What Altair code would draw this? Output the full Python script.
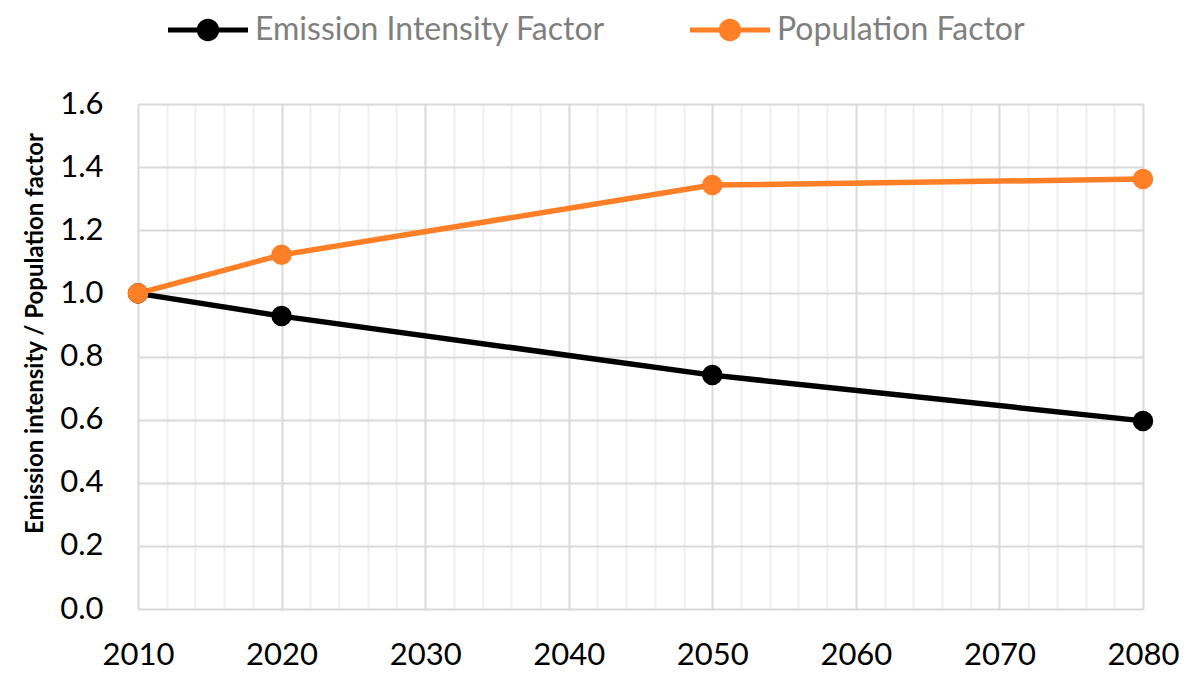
import altair as alt
import pandas as pd

years = [2010, 2020, 2050, 2080]
emission_intensity = [1.0, 0.928, 0.741, 0.596]
population = [1.0, 1.122, 1.343, 1.362]
series_names = ["Emission Intensity Factor", "Population Factor"]
series_colors = ["#000000", "#ff7f27"]
x_ticks = list(range(2010, 2081, 2))
y_ticks = [0.0, 0.2, 0.4, 0.6, 0.8, 1.0, 1.2, 1.4, 1.6]

rows = []
for name, vals in zip(series_names, [emission_intensity, population]):
    for yr, v in zip(years, vals):
        rows.append({"year": yr, "value": v, "series": name})
df = pd.DataFrame(rows)

FONT = "Lato"

x_enc = alt.X(
    "year:Q",
    scale=alt.Scale(domain=[2010, 2080], nice=False, zero=False),
    axis=alt.Axis(
        values=x_ticks,
        format="d",
        labelExpr="datum.value % 10 === 0 ? datum.label : ''",
        gridColor=alt.condition("datum.value % 10 === 0", alt.value("#d9d9d9"), alt.value("#efefef")),
        gridWidth=2,
        domain=False,
        ticks=False,
        labelFont=FONT,
        labelFontSize=31,
        labelColor="#000000",
        labelPadding=31,
        labelOverlap=False,
        labelFlush=False,
        labelBound=False,
        title=None,
    ),
)
y_enc = alt.Y(
    "value:Q",
    scale=alt.Scale(domain=[0, 1.6], nice=False),
    axis=alt.Axis(
        values=y_ticks,
        format=".1f",
        gridColor="#d9d9d9",
        gridWidth=2,
        domain=False,
        ticks=False,
        labelFont=FONT,
        labelFontSize=31,
        labelColor="#000000",
        labelPadding=35,
        labelFlush=False,
        title="Emission intensity / Population factor",
        titleFont=FONT,
        titleFontSize=24,
        titleFontWeight="bold",
        titleColor="#000000",
        titleX=-103,
        titleY=229,
        titleAngle=270,
        titleBaseline="middle",
        titleAlign="center",
    ),
)
color_scale = alt.Scale(domain=series_names, range=series_colors)

legend_path = "M-1,-0.065H1V0.065H-1Z M0.28,0A0.28,0.28 0 1,1 -0.28,0A0.28,0.28 0 1,1 0.28,0Z"
legend = alt.Legend(
    title=None,
    orient="none",
    direction="horizontal",
    legendX=30,
    legendY=-114,
    symbolType=legend_path,
    symbolSize=6400,
    symbolStrokeWidth=0,
    symbolOpacity=1,
    labelFont=FONT,
    labelFontSize=32,
    labelColor="#7f7f7f",
    labelOffset=7,
    columnPadding=84,
    padding=0,
    labelLimit=600,
)

lines = alt.Chart(df).mark_line(strokeWidth=5.5).encode(
    x=x_enc,
    y=y_enc,
    color=alt.Color("series:N", scale=color_scale, legend=legend),
    order=alt.Order("year:Q"),
)

points = alt.Chart(df).mark_point(filled=True, size=420, opacity=1).encode(
    x=x_enc,
    y=y_enc,
    color=alt.Color("series:N", scale=color_scale, legend=legend),
)

chart = alt.layer(lines, points).properties(
    width=1005,
    height=505,
    autosize=alt.AutoSizeParams(type="none"),
    padding={"left": 130, "top": 96, "right": 47, "bottom": 64},
).configure_view(stroke=None)

chart.save("out.html", embed_options={"renderer": "svg", "actions": False})
